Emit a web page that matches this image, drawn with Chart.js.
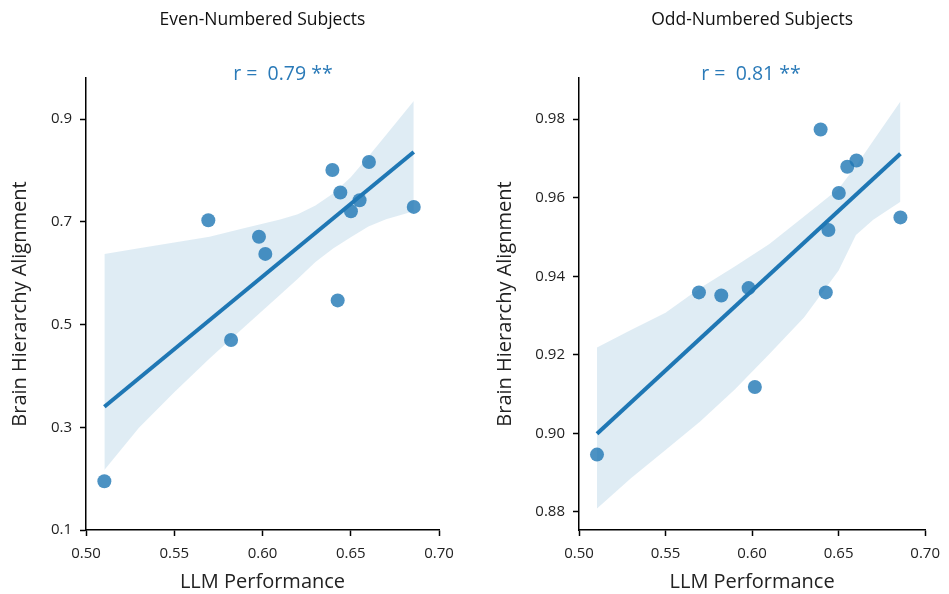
<!DOCTYPE html>
<html lang="en">
<head>
    <meta charset="UTF-8">
    <title>Brain Hierarchy Alignment vs LLM Performance</title>
    <script src="https://cdn.jsdelivr.net/npm/chart.js"></script>
    <style>
        body { margin: 0; background: #fff; }
        .panel { position: absolute; top: 0; width: 474px; height: 594px; }
    </style>
</head>
<body>
    <div class="panel" style="left:0"><canvas id="evenChart" width="474" height="594"></canvas></div>
    <div class="panel" style="left:474px"><canvas id="oddChart" width="475" height="594"></canvas></div>

    <script>
        // LLM performance of each model (same for both panels)
        const llmPerf = [0.5104, 0.5693, 0.5822, 0.598, 0.6016, 0.6396, 0.6426, 0.6441, 0.6501, 0.655, 0.6603, 0.6857];

        // brain hierarchy alignment per model
        const evenAlign = [0.195, 0.703, 0.470, 0.671, 0.6375, 0.801, 0.547, 0.757, 0.7206, 0.742, 0.8166, 0.729];
        const oddAlign = [0.8946, 0.9359, 0.9351, 0.9370, 0.9118, 0.9774, 0.9359, 0.9518, 0.9612, 0.9679, 0.9695, 0.9550];

        // regression line ends
        const fitX = [0.5104, 0.6857];
        const evenFit = [0.340, 0.836];
        const oddFit = [0.8999, 0.9712];

        // confidence band
        const evenBandX = [0.5104, 0.53, 0.55, 0.57, 0.59, 0.61, 0.62, 0.63, 0.64, 0.65, 0.66, 0.67, 0.6857];
        const evenUpper = [0.6375, 0.6485, 0.6598, 0.6708, 0.6879, 0.7046, 0.7147, 0.7317, 0.755, 0.787, 0.827, 0.869, 0.935];
        const evenLower = [0.2167, 0.299, 0.368, 0.434, 0.496, 0.558, 0.589, 0.622, 0.648, 0.670, 0.691, 0.705, 0.7206];

        const oddBandX = [0.5104, 0.53, 0.55, 0.57, 0.59, 0.61, 0.63, 0.65, 0.66, 0.67, 0.6857];
        const oddUpper = [0.9219, 0.9263, 0.9307, 0.9370, 0.9425, 0.9482, 0.9552, 0.9623, 0.9681, 0.9745, 0.9845];
        const oddLower = [0.8809, 0.8886, 0.8958, 0.9030, 0.9112, 0.9202, 0.9295, 0.9415, 0.9505, 0.9544, 0.9590];

        // tick labels
        const xTicks = [0.50, 0.55, 0.60, 0.65, 0.70];
        const evenYTicks = [0.1, 0.3, 0.5, 0.7, 0.9];
        const oddYTicks = [0.88, 0.90, 0.92, 0.94, 0.96, 0.98];

        const FONT = '"Open Sans", "Noto Sans", sans-serif';
        const pts = (xs, ys) => xs.map((x, i) => ({ x: x, y: ys[i] }));

        // draws panel title and the r annotation above the plot area
        const headerPlugin = {
            id: 'header',
            afterDraw(chart, args, opts) {
                const ctx = chart.ctx;
                const area = chart.chartArea;
                ctx.save();
                ctx.textAlign = 'center';
                ctx.textBaseline = 'middle';
                ctx.fillStyle = '#111';
                ctx.font = '17.5px ' + FONT;
                ctx.fillText(opts.title, (area.left + area.right) / 2, 20);
                ctx.fillStyle = '#2a7ab8';
                ctx.font = '19.5px ' + FONT;
                ctx.fillText(opts.rText, area.left + (area.right - area.left) * opts.rPos, 74);
                ctx.restore();
            }
        };

        function makeChart(id, opts) {
            const ctx = document.getElementById(id).getContext('2d');
            return new Chart(ctx, {
                type: 'scatter',
                data: {
                    datasets: [
                        {
                            type: 'line',
                            data: pts(fitX, opts.fit),
                            borderColor: '#1f77b4',
                            borderWidth: 4,
                            pointRadius: 0,
                            order: 0
                        },
                        {
                            data: pts(llmPerf, opts.align),
                            backgroundColor: 'rgba(31,119,180,0.8)',
                            borderWidth: 0,
                            pointRadius: 7,
                            order: 1
                        },
                        {
                            type: 'line',
                            data: pts(opts.bandX, opts.upper),
                            borderWidth: 0,
                            borderColor: 'rgba(0,0,0,0)',
                            backgroundColor: 'rgba(31,119,180,0.14)',
                            pointRadius: 0,
                            fill: '+1',
                            order: 2
                        },
                        {
                            type: 'line',
                            data: pts(opts.bandX, opts.lower),
                            borderWidth: 0,
                            borderColor: 'rgba(0,0,0,0)',
                            pointRadius: 0,
                            fill: false,
                            order: 3
                        }
                    ]
                },
                options: {
                    responsive: false,
                    animation: false,
                    events: [],
                    layout: { padding: { top: 78, right: opts.padRight, bottom: 0, left: 0 } },
                    plugins: {
                        legend: { display: false },
                        tooltip: { enabled: false },
                        header: { title: opts.title, rText: opts.rText, rPos: opts.rPos }
                    },
                    scales: {
                        x: {
                            type: 'linear',
                            min: 0.5,
                            max: 0.7,
                            afterBuildTicks: axis => { axis.ticks = xTicks.map(v => ({ value: v })); },
                            afterFit: axis => { axis.height = 64; },
                            grid: { drawOnChartArea: false, color: '#000', tickLength: 6, tickWidth: 1.5 },
                            border: { color: '#000', width: 1.5 },
                            ticks: {
                                color: '#222', padding: 9,
                                font: { family: FONT, size: 15 },
                                callback: v => v.toFixed(2)
                            },
                            title: {
                                display: true, text: 'LLM Performance', color: '#222',
                                font: { family: FONT, size: 20 },
                                padding: { top: 0, bottom: 0 }
                            }
                        },
                        y: {
                            type: 'linear',
                            min: opts.yMin,
                            max: opts.yMax,
                            afterBuildTicks: axis => { axis.ticks = opts.yTicks.map(v => ({ value: v })); },
                            afterFit: axis => { axis.width = opts.yWidth; },
                            grid: { drawOnChartArea: false, color: '#000', tickLength: 6, tickWidth: 1.5 },
                            border: { color: '#000', width: 1.5 },
                            ticks: {
                                color: '#222', padding: 8,
                                font: { family: FONT, size: 15 },
                                callback: v => v.toFixed(opts.yDigits)
                            },
                            title: {
                                display: true, text: 'Brain Hierarchy Alignment', color: '#222',
                                font: { family: FONT, size: 20 },
                                padding: { top: opts.yTitlePad, bottom: 0 }
                            }
                        }
                    }
                },
                plugins: [headerPlugin]
            });
        }

        makeChart('evenChart', {
            title: 'Even-Numbered Subjects', rText: 'r =  0.79 **', rPos: 0.558,
            align: evenAlign, fit: evenFit, bandX: evenBandX, upper: evenUpper, lower: evenLower,
            yMin: 0.1, yMax: 0.98, yTicks: evenYTicks, yDigits: 1,
            yWidth: 86, yTitlePad: 8, padRight: 35
        });

        makeChart('oddChart', {
            title: 'Odd-Numbered Subjects', rText: 'r =  0.81 **', rPos: 0.497,
            align: oddAlign, fit: oddFit, bandX: oddBandX, upper: oddUpper, lower: oddLower,
            yMin: 0.8754, yMax: 0.9905, yTicks: oddYTicks, yDigits: 2,
            yWidth: 105, yTitlePad: 19, padRight: 16
        });
    </script>
</body>
</html>
